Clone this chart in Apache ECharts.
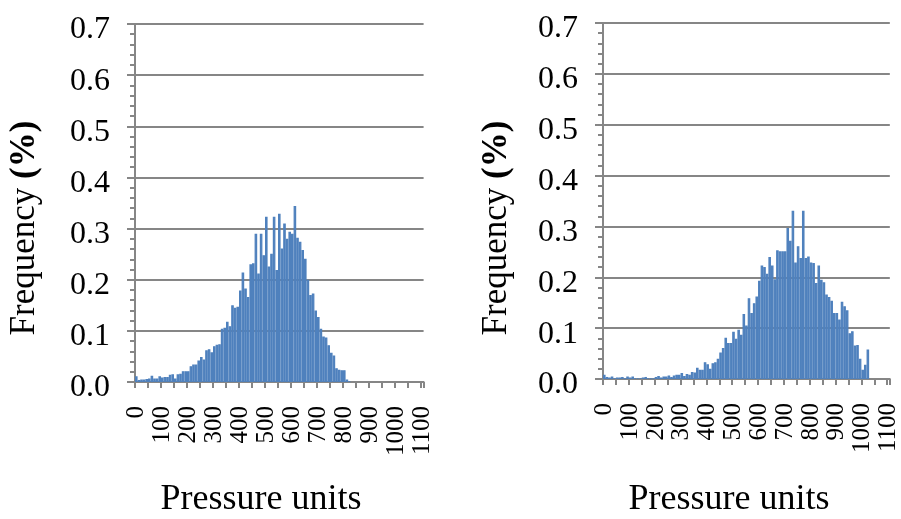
<!DOCTYPE html>
<html><head><meta charset="utf-8">
<script src="https://cdn.jsdelivr.net/npm/echarts@6/dist/echarts.min.js"></script>
<style>html,body{margin:0;padding:0;background:#fff}#c{width:901px;height:519px}</style>
</head><body><div id="c"></div>
<script>
// ---- data ----
const binWidth = 10;          // pressure units per bin
const binCount = 111;         // bins 0 .. 1100
const categories = [];
for (let i = 0; i < binCount; i++) categories.push(String(i * binWidth));

const leftFreq = [0.011,0.004,0.005,0.005,0.006,0.007,0.012,0.007,0.007,0.011,
0.009,0.010,0.010,0.014,0.015,0.007,0.015,0.016,0.021,0.021,
0.021,0.031,0.034,0.034,0.042,0.049,0.044,0.062,0.064,0.058,
0.070,0.073,0.074,0.104,0.106,0.118,0.109,0.150,0.145,0.147,
0.179,0.214,0.183,0.166,0.230,0.232,0.290,0.212,0.290,0.248,
0.323,0.226,0.251,0.323,0.219,0.329,0.261,0.310,0.280,0.294,
0.290,0.344,0.282,0.274,0.258,0.241,0.200,0.170,0.173,0.140,
0.127,0.104,0.089,0.087,0.072,0.057,0.052,0.027,0.024,0.023,
0.023,0.005,0.002];

const rightFreq = [0.0085,0.004,0.003,0.005,0.002,0.003,0.003,0.004,0.001,0.005,
0.003,0.005,0.002,0.002,0.002,0.003,0.004,0.002,0.001,0.001,
0.004,0.006,0.003,0.005,0.005,0.007,0.004,0.007,0.0085,0.0085,
0.012,0.006,0.010,0.0085,0.014,0.013,0.022,0.018,0.018,0.033,
0.029,0.020,0.031,0.033,0.040,0.052,0.061,0.081,0.071,0.071,
0.093,0.079,0.097,0.087,0.128,0.105,0.159,0.130,0.149,0.162,
0.193,0.223,0.220,0.207,0.240,0.223,0.196,0.253,0.251,0.251,
0.251,0.297,0.272,0.331,0.229,0.261,0.238,0.331,0.238,0.241,
0.229,0.228,0.189,0.223,0.195,0.190,0.166,0.161,0.154,0.130,
0.130,0.117,0.152,0.143,0.135,0.090,0.094,0.066,0.067,0.040,
0.018,0.028,0.058];

const yMin = 0, yMax = 0.7, yStep = 0.1;
const yTitleMain = 'Frequency ';
const yTitleUnit = '(%)';
const xTitle = 'Pressure units';

// ---- chart ----
const serif = "'Liberation Serif','Times New Roman',serif";
const gray = '#868686';
const barColor = '#4F81BD';

function xAxisCfg(gi) {
  return {
    type: 'category', gridIndex: gi, data: categories, boundaryGap: true,
    axisLine: { show: true, lineStyle: { color: gray, width: 2 } },
    axisTick: { show: true, interval: 4, length: 6, lineStyle: { color: gray, width: 2 } },
    axisLabel: { interval: 9, rotate: 90, margin: 24, fontFamily: serif, fontSize: 25, color: '#000' },
    splitLine: { show: false }
  };
}
function yAxisCfg(gi) {
  return {
    type: 'value', gridIndex: gi, min: yMin, max: yMax, interval: yStep,
    axisLine: { show: true, lineStyle: { color: gray, width: 2 } },
    axisTick: { show: true, length: 8, lineStyle: { color: gray, width: 2 } },
    minorTick: { show: true, splitNumber: 5, length: 5, lineStyle: { color: gray, width: 2 } },
    splitLine: { show: true, lineStyle: { color: gray, width: 2 } },
    axisLabel: { margin: 25, formatter: v => v.toFixed(1), fontFamily: serif, fontSize: 32, color: '#000',
                 verticalAlign: 'top', lineHeight: 12, showMinLabel: true, showMaxLabel: true }
  };
}
function titleText(x, y, rotated) {
  return {
    type: 'text', x: x, y: y, rotation: rotated ? Math.PI / 2 : 0,
    style: rotated ? {
      text: '{n|' + yTitleMain + '}{b|' + yTitleUnit + '}',
      rich: {
        n: { fontFamily: serif, fontSize: 35, fill: '#000' },
        b: { fontFamily: serif, fontSize: 35, fontWeight: 'bold', fill: '#000' }
      },
      align: 'center', verticalAlign: 'middle', textAlign: 'center', textVerticalAlign: 'middle'
    } : {
      text: xTitle, fontFamily: serif, fontSize: 36, fill: '#000',
      align: 'center', verticalAlign: 'middle', textAlign: 'center', textVerticalAlign: 'middle'
    }
  };
}

const chart = echarts.init(document.getElementById('c'), null, { renderer: 'canvas' });
const barStyle = { color: barColor, borderColor: barColor, borderWidth: 1.2 };
chart.setOption({
  animation: false,
  backgroundColor: '#fff',
  grid: [
    { left: 135, top: 24, width: 288.6, height: 358 },
    { left: 603, top: 23, width: 292, height: 356 }
  ],
  xAxis: [xAxisCfg(0), xAxisCfg(1)],
  yAxis: [yAxisCfg(0), yAxisCfg(1)],
  series: [
    { type: 'bar', xAxisIndex: 0, yAxisIndex: 0, data: leftFreq, barCategoryGap: '0%', itemStyle: barStyle },
    { type: 'bar', xAxisIndex: 1, yAxisIndex: 1, data: rightFreq, barCategoryGap: '0%', itemStyle: barStyle }
  ],
  graphic: [
    titleText(25, 228, true),
    titleText(497, 228, true),
    titleText(261, 500, false),
    titleText(729, 500, false)
  ]
});
</script>
</body></html>
